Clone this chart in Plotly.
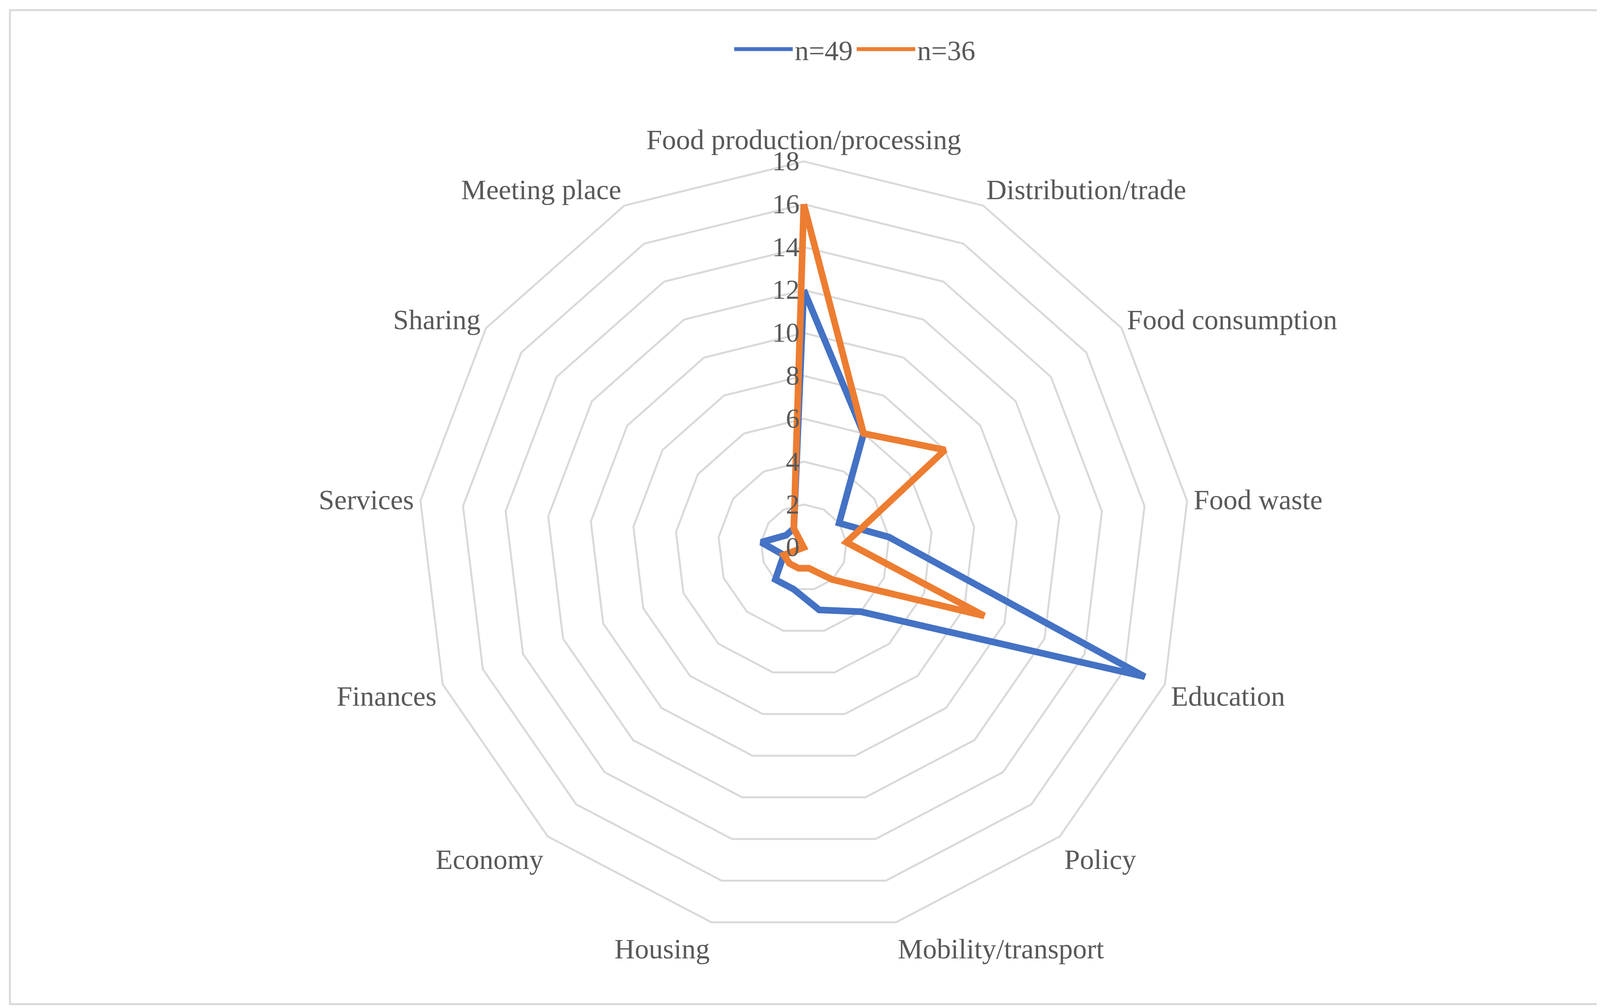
import plotly.graph_objects as go

categories = ["Food production/processing", "Distribution/trade", "Food consumption", "Food waste",
              "Education", "Policy", "Mobility/transport", "Housing", "Economy", "Finances",
              "Services", "Sharing", "Meeting place"]
n49 = [12, 6, 2, 4, 17, 4, 3, 2, 2, 1, 2, 1, 1]
n36 = [16, 6, 8, 2, 9, 2, 1, 1, 1, 1, 0, 0, 1]
series_names = ["n=49", "n=36"]
colors = ["#4472C4", "#ED7D31"]

fig = go.Figure()
for name, vals, c in zip(series_names, [n49, n36], colors):
    fig.add_trace(go.Scatterpolar(r=vals + vals[:1], theta=categories + categories[:1], mode="lines",
                                  name=name, line=dict(color=c, width=17)))

font = "Liberation Serif, DejaVu Serif, serif"
fig.update_layout(
    width=4361, height=2581, paper_bgcolor="white", plot_bgcolor="white",
    margin=dict(l=0, r=0, t=0, b=0),
    font=dict(family=font, size=72, color="#595959"),
    legend=dict(orientation="h", x=0.5, xanchor="center", y=0.975, yanchor="top",
                font=dict(size=72), itemwidth=150),
    polar=dict(
        domain=dict(x=[0.17, 0.77], y=[0.077, 0.843]),
        bgcolor="white", gridshape="linear",
        radialaxis=dict(range=[0, 18], dtick=2, angle=90, tickangle=90, side="counterclockwise",
                        showline=False, gridcolor="#D9D9D9", gridwidth=5,
                        tickfont=dict(size=70, color="#595959"), ticks=""),
        angularaxis=dict(rotation=90, direction="clockwise", showgrid=False, showline=True,
                         linecolor="#D9D9D9", linewidth=5, ticks="", tickfont=dict(size=72, color="#595959")),
    ),
    shapes=[dict(type="rect", xref="paper", yref="paper", x0=0.004, y0=0.007, x1=0.996, y1=0.993,
                 line=dict(color="#D9D9D9", width=5))],
)
fig.write_html("out.html")
